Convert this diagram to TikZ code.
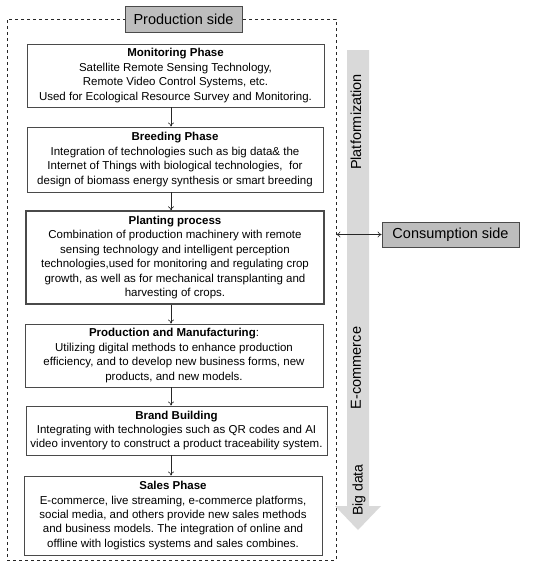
\documentclass[tikz,border=0pt]{standalone}
\usepackage{fontspec}
\setmainfont{Liberation Sans}
\usetikzlibrary{arrows.meta}
\definecolor{boxline}{HTML}{4A4A4A}
\definecolor{sidefill}{HTML}{BDBDBD}
\definecolor{bandfill}{HTML}{D9D9D9}
\frenchspacing
\begin{document}
\begin{tikzpicture}[x=1pt,y=-1pt,
  phase/.style={draw=boxline, line width=0.9pt, fill=white, align=center, inner sep=0pt,
    font=\fontsize{11.5}{14.4}\selectfont},
  side/.style={draw=boxline, line width=0.8pt, fill=sidefill, inner sep=0pt,
    font=\fontsize{14.5}{16}\selectfont},
  flow/.style={-{To[length=4pt,width=6pt]}, line width=0.6pt, draw=black!85},
  band/.style={rotate=90, font=\fontsize{14.5}{16}\selectfont}
]
\useasboundingbox (0,0) rectangle (550,566);
% frame
\node[draw=black!85, dashed, line width=0.8pt, minimum width=329pt, minimum height=541pt, inner sep=0pt] (frame) at (171.5,289.5) {};
% gray band arrow
\fill[bandfill] (347,50) -- (369,50) -- (369,506) -- (381,506) -- (358,530) -- (335,506) -- (347,506) -- cycle;
\node[band] (plat) at (356,122) {Platformization};
\node[band] (ecom) at (356,368) {E-commerce};
\node[band, font=\fontsize{14}{16}\selectfont] (bigd) at (359,490) {Big data};
% side labels
\node[side, minimum width=117pt, minimum height=26pt] (prod) at (183.5,19) {Production side};
\node[side, minimum width=137pt, minimum height=25pt] (cons) at (450.5,234.5) {Consumption side};
% phases
\node[phase, minimum width=297pt, minimum height=63pt] (mon) at (175.5,75.5)
  {\textbf{Monitoring Phase}\\Satellite Remote Sensing Technology,\\Remote Video Control Systems, etc.\\Used for Ecological Resource Survey and Monitoring.};
\node[phase, minimum width=296pt, minimum height=65pt] (breed) at (175,159.5)
  {\textbf{Breeding Phase}\\Integration of technologies such as big data\& the\\Internet of Things with biological technologies,\ \ for\\design of biomass energy synthesis or smart breeding};
\node[phase, line width=1.2pt, minimum width=298pt, minimum height=93pt] (plant) at (175,257.5)
  {\textbf{Planting process}\\Combination of production machinery with remote\\sensing technology and intelligent perception\\technologies,used for monitoring and regulating crop\\growth, as well as for mechanical transplanting and\\harvesting of crops.};
\node[phase, minimum width=298pt, minimum height=63pt] (pm) at (174,355.5)
  {\textbf{Production and Manufacturing}:\\Utilizing digital methods to enhance production\\efficiency, and to develop new business forms, new\\products, and new models.};
\node[phase, minimum width=301pt, minimum height=49pt] (brand) at (176.5,430.5)
  {\textbf{Brand Building}\\Integrating with technologies such as QR codes and AI\\video inventory to construct a product traceability system.};
\node[phase, minimum width=298pt, minimum height=79pt] (sales) at (173,515.5)
  {\textbf{Sales Phase}\\E-commerce, live streaming, e-commerce platforms,\\social media, and others provide new sales methods\\and business models. The integration of online and\\offline with logistics systems and sales combines.};
% connectors
\coordinate (ax) at (171,0);
\draw[flow] (mon.south -| ax) -- (breed.north -| ax);
\draw[flow] (breed.south -| ax) -- (plant.north -| ax);
\draw[flow] (plant.south -| ax) -- (pm.north -| ax);
\draw[flow] (pm.south -| ax) -- (brand.north -| ax);
\draw[flow] (brand.south -| ax) -- (sales.north -| ax);
\draw[{To[length=4pt,width=6pt]}-{To[length=4pt,width=6pt]}, line width=0.6pt, draw=black!85] (frame.east |- cons.west) -- (cons.west);
\end{tikzpicture}
\end{document}
